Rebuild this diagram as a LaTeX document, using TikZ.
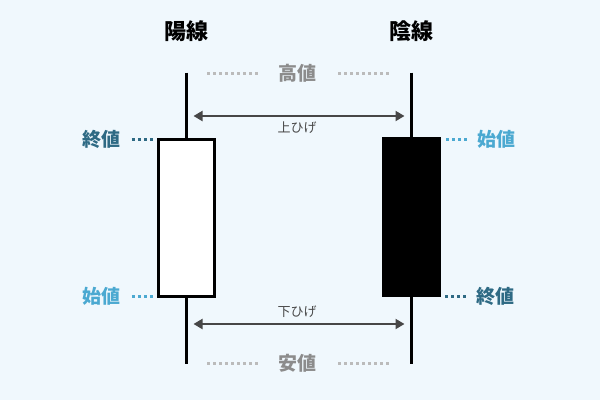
\documentclass[tikz,border=0pt]{standalone}
\usepackage{fontspec}
\setmainfont{Noto Sans CJK JP}
\usetikzlibrary{arrows.meta}
\definecolor{bgblue}{HTML}{F0F8FD}
\definecolor{closecol}{HTML}{2E6A84}
\definecolor{opencol}{HTML}{4BA9D1}
\definecolor{extcol}{HTML}{8C8C8C}
\definecolor{dotgray}{HTML}{BBBBBB}
\definecolor{higecol}{HTML}{474747}
\begin{document}
\begin{tikzpicture}[x=1pt,y=-1pt,
    body/.style={draw=black,line width=3pt,minimum width=56pt,minimum height=157pt,inner sep=0pt},
    val/.style={font=\bfseries\fontsize{19}{19}\selectfont,inner sep=0pt},
    leader/.style={line width=3pt,dash pattern=on 3pt off 3pt},
    higearrow/.style={draw=higecol,line width=2pt,{Triangle[length=9pt,width=10pt]}-{Triangle[length=9pt,width=10pt]},shorten <=7pt,shorten >=7pt}]
    \fill[bgblue] (0,0) rectangle (600,400);

    % wicks
    \foreach \n/\x in {L/186.5,R/411.5} {
      \coordinate (\n-top) at (\x,72.5);
      \coordinate (\n-bot) at (\x,364);
      \coordinate (\n-up) at (\x,116);
      \coordinate (\n-low) at (\x,324);
      \draw[line width=3pt] (\n-top) -- (\n-bot);
    }

    % bodies
    \node[body,fill=white] (Lbody) at (186.5,217.5) {};
    \node[body,fill=black] (Rbody) at (411.5,217) {};

    \node[font=\bfseries\fontsize{22}{22}\selectfont] (Ltitle) at (186.5,31.5) {陽線};
    \node[font=\bfseries\fontsize{22}{22}\selectfont] (Rtitle) at (411.5,31.5) {陰線};

    % high / low
    \node[val,text=extcol] (high) at (297,73) {高値};
    \node[val,text=extcol] (low) at (297,363) {安値};
    \draw[leader,dotgray,shorten >=20.5pt] ([xshift=-20pt]high.west) -- (high.west -| L-top);
    \draw[leader,dotgray,shorten >=21.5pt] ([xshift=22pt]high.east) -- (high.east -| R-top);
    \draw[leader,dotgray,shorten >=20.5pt] ([xshift=-20pt]low.west) -- (low.west -| L-top);
    \draw[leader,dotgray,shorten >=21.5pt] ([xshift=22pt]low.east) -- (low.east -| R-top);

    % open / close
    \node[val,text=closecol] (Lclose) at (101.7,139) {終値};
    \node[val,text=opencol] (Lopen) at (101.7,296) {始値};
    \node[val,text=opencol] (Ropen) at (496,139) {始値};
    \node[val,text=closecol] (Rclose) at (495,296) {終値};
    \draw[leader,closecol] ([xshift=11pt]Lclose.east) -- ([xshift=-2pt]Lclose.east -| Lbody.west);
    \draw[leader,opencol] ([xshift=11pt]Lopen.east) -- ([xshift=-2pt]Lopen.east -| Lbody.west);
    \draw[leader,opencol] ([xshift=-10pt]Ropen.west) -- ([xshift=2pt]Ropen.west -| Rbody.east);
    \draw[leader,closecol] ([xshift=-10pt]Rclose.west) -- ([xshift=2pt]Rclose.west -| Rbody.east);

    % shadows
    \draw[higearrow] (L-up) -- (R-up);
    \draw[higearrow] (L-low) -- (R-low);
    \node[text=higecol,font=\fontsize{13}{13}\selectfont] (upper) at (297,127.5) {上ひげ};
    \node[text=higecol,font=\fontsize{13}{13}\selectfont] (lower) at (297,311.5) {下ひげ};
  \end{tikzpicture}
\end{document}
